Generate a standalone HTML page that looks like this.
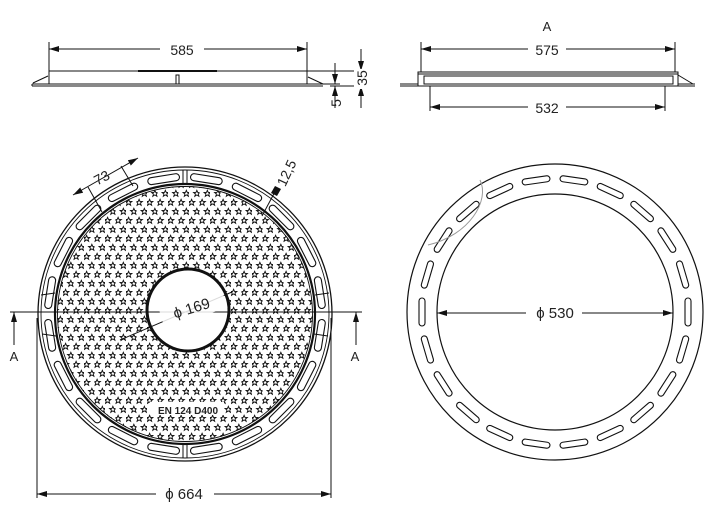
<!DOCTYPE html>
<html><head><meta charset="utf-8"><style>
html,body{margin:0;padding:0;background:#fff;}
svg{display:block;}
text{font-family:"Liberation Sans",sans-serif;fill:#222;}
</style></head><body>
<svg width="713" height="520" viewBox="0 0 713 520" xmlns="http://www.w3.org/2000/svg">
<defs>
<marker id="ar" viewBox="0 0 10 6" refX="10" refY="3" markerWidth="10" markerHeight="6" orient="auto-start-reverse" markerUnits="userSpaceOnUse">
<path d="M0,0 L10,3 L0,6 Z" fill="#111"/></marker>
<polygon id="st" points="0,-3.2 0.9,-1.1 3.2,-1 1.4,0.45 2.05,2.8 0,1.4 -2.05,2.8 -1.4,0.45 -3.2,-1 -0.9,-1.1" fill="none" stroke="#111" stroke-width="0.95"/>
<pattern id="stars" width="10.5" height="18" patternUnits="userSpaceOnUse" x="0" y="0">
<use href="#st" x="2.6" y="4.5"/><use href="#st" x="7.85" y="13.5"/>
</pattern>
<rect id="sl1" x="318" y="298" width="7" height="32" rx="3.5" fill="none" stroke="#111" stroke-width="1.1"/>
<rect id="sl2" x="685" y="298" width="6" height="28" rx="3" fill="none" stroke="#111" stroke-width="1.1"/>
</defs>

<!-- TOP LEFT PROFILE -->
<g stroke="#111" fill="none" stroke-width="1">
<line x1="49" y1="42" x2="49" y2="84"/>
<line x1="307" y1="42" x2="307" y2="84"/>
<line x1="49" y1="49" x2="307" y2="49" marker-start="url(#ar)" marker-end="url(#ar)"/>
<line x1="49" y1="71" x2="366" y2="71"/>
<line x1="138" y1="71" x2="217" y2="71" stroke-width="2"/>
<line x1="32" y1="84" x2="340" y2="84"/>
<line x1="32" y1="86" x2="323" y2="86"/>
<line x1="32" y1="84" x2="32" y2="86"/>
<line x1="33" y1="83" x2="48" y2="76"/>
<line x1="323" y1="84" x2="308" y2="77"/>
<rect x="176" y="75" width="3" height="9"/>
<line x1="335" y1="63" x2="335" y2="84" marker-end="url(#ar)"/>
<line x1="335" y1="108" x2="335" y2="86" marker-end="url(#ar)"/>
<line x1="361" y1="49" x2="361" y2="71" marker-end="url(#ar)"/>
<line x1="361" y1="108" x2="361" y2="86" marker-end="url(#ar)"/>
<line x1="330" y1="86" x2="366" y2="86"/>
</g>
<rect x="160" y="41" width="44" height="16" fill="#fff"/>
<text x="182" y="55" font-size="14" text-anchor="middle">585</text>
<text transform="translate(341,103) rotate(-90)" font-size="14" text-anchor="middle">5</text>
<rect x="354" y="69" width="14" height="20" fill="#fff"/>
<text transform="translate(367,78) rotate(-90)" font-size="14" text-anchor="middle">35</text>

<!-- TOP RIGHT PROFILE -->
<text x="547" y="31" font-size="13" text-anchor="middle">A</text>
<g stroke="#111" fill="none" stroke-width="1">
<line x1="421" y1="42" x2="421" y2="72"/>
<line x1="675" y1="42" x2="675" y2="72"/>
<line x1="421" y1="49" x2="675" y2="49" marker-start="url(#ar)" marker-end="url(#ar)"/>
<rect x="418" y="72" width="260" height="14"/>
<line x1="418" y1="74" x2="678" y2="74"/>
<rect x="424" y="76" width="249" height="8"/>
<line x1="400" y1="86" x2="695" y2="86"/>
<line x1="400" y1="84" x2="418" y2="84"/>
<line x1="678" y1="84" x2="695" y2="84"/>
<line x1="678" y1="75" x2="693" y2="84"/>
<line x1="430" y1="86" x2="430" y2="111"/>
<line x1="665" y1="86" x2="665" y2="111"/>
<line x1="430" y1="107" x2="665" y2="107" marker-start="url(#ar)" marker-end="url(#ar)"/>
</g>
<rect x="528" y="41" width="38" height="16" fill="#fff"/>
<text x="547" y="55" font-size="14" text-anchor="middle">575</text>
<rect x="528" y="99" width="38" height="16" fill="#fff"/>
<text x="547" y="113" font-size="14" text-anchor="middle">532</text>

<!-- LEFT CIRCLE -->
<circle cx="185" cy="314" r="128" fill="url(#stars)"/>
<g stroke="#111" fill="none">
<circle cx="185" cy="314" r="147" stroke-width="1.3"/>
<circle cx="185" cy="314" r="144" stroke-width="0.9"/>
<circle cx="185" cy="314" r="130" stroke-width="2.2"/>
<circle cx="185" cy="314" r="127.5" stroke-width="0.9"/>
<g stroke-width="1">
<line x1="183" y1="170" x2="183" y2="184"/><line x1="187" y1="170" x2="187" y2="184"/>
<line x1="183" y1="444" x2="183" y2="458"/><line x1="187" y1="444" x2="187" y2="458"/>
<line x1="41" y1="295" x2="55" y2="293"/><line x1="315" y1="295" x2="329" y2="293"/>
<line x1="42" y1="334" x2="56" y2="336"/><line x1="314" y1="334" x2="328" y2="336"/>
</g>
<use href="#sl1" transform="rotate(9 185 314)"/><use href="#sl1" transform="rotate(27 185 314)"/>
<use href="#sl1" transform="rotate(45 185 314)"/><use href="#sl1" transform="rotate(63 185 314)"/>
<use href="#sl1" transform="rotate(81 185 314)"/><use href="#sl1" transform="rotate(99 185 314)"/>
<use href="#sl1" transform="rotate(117 185 314)"/><use href="#sl1" transform="rotate(135 185 314)"/>
<use href="#sl1" transform="rotate(153 185 314)"/><use href="#sl1" transform="rotate(171 185 314)"/>
<use href="#sl1" transform="rotate(189 185 314)"/><use href="#sl1" transform="rotate(207 185 314)"/>
<use href="#sl1" transform="rotate(225 185 314)"/><use href="#sl1" transform="rotate(243 185 314)"/>
<use href="#sl1" transform="rotate(261 185 314)"/><use href="#sl1" transform="rotate(279 185 314)"/>
<use href="#sl1" transform="rotate(297 185 314)"/><use href="#sl1" transform="rotate(315 185 314)"/>
<use href="#sl1" transform="rotate(333 185 314)"/><use href="#sl1" transform="rotate(351 185 314)"/>
</g>
<circle cx="188" cy="310" r="41" fill="#fff" stroke="#111" stroke-width="3"/>
<g stroke="#111" stroke-width="1" fill="none">
<line x1="10" y1="312" x2="362" y2="312"/>
<line x1="14" y1="345" x2="14" y2="312" marker-end="url(#ar)"/>
<line x1="356" y1="345" x2="356" y2="312" marker-end="url(#ar)"/>
<line x1="120" y1="340" x2="232" y2="292"/>
<line x1="37" y1="318" x2="37" y2="498"/>
<line x1="331" y1="318" x2="331" y2="498"/>
<line x1="37" y1="494" x2="331" y2="494" marker-start="url(#ar)" marker-end="url(#ar)"/>
<line x1="73" y1="195" x2="138" y2="158" marker-start="url(#ar)" marker-end="url(#ar)"/>
<line x1="88" y1="187" x2="102" y2="212"/>
<line x1="121" y1="166" x2="133" y2="186"/>
<line x1="262" y1="216" x2="277" y2="188"/>
</g>
<polygon points="275,186 281,189 277,196 271,193" fill="#111"/>
<rect x="160" y="301" width="66" height="17" fill="#fff" opacity="0.85" transform="rotate(-17 193 308)"/>
<text transform="translate(193,313) rotate(-17)" font-size="15" text-anchor="middle">ϕ 169</text>
<text transform="translate(104,182) rotate(-28)" font-size="14" text-anchor="middle">73</text>
<text transform="translate(291,175) rotate(-65)" font-size="14" text-anchor="middle">12,5</text>
<text x="14" y="361" font-size="13" text-anchor="middle">A</text>
<text x="355" y="361" font-size="13" text-anchor="middle">A</text>
<rect x="150" y="402" width="74" height="13" fill="#fff"/>
<text x="188" y="414" font-size="10" font-weight="bold" text-anchor="middle">EN 124 D400</text>
<rect x="156" y="486" width="58" height="17" fill="#fff"/>
<text x="184" y="499" font-size="15" text-anchor="middle">ϕ 664</text>

<!-- RIGHT CIRCLE -->
<g stroke="#111" fill="none" stroke-width="1.2">
<circle cx="555" cy="312" r="148"/>
<circle cx="555" cy="312" r="118"/>
<g>
<use href="#sl2" transform="rotate(0 555 312)"/><use href="#sl2" transform="rotate(16.36 555 312)"/>
<use href="#sl2" transform="rotate(32.73 555 312)"/><use href="#sl2" transform="rotate(49.09 555 312)"/>
<use href="#sl2" transform="rotate(65.45 555 312)"/><use href="#sl2" transform="rotate(81.82 555 312)"/>
<use href="#sl2" transform="rotate(98.18 555 312)"/><use href="#sl2" transform="rotate(114.55 555 312)"/>
<use href="#sl2" transform="rotate(130.91 555 312)"/><use href="#sl2" transform="rotate(147.27 555 312)"/>
<use href="#sl2" transform="rotate(163.64 555 312)"/><use href="#sl2" transform="rotate(180 555 312)"/>
<use href="#sl2" transform="rotate(196.36 555 312)"/><use href="#sl2" transform="rotate(212.73 555 312)"/>
<use href="#sl2" transform="rotate(229.09 555 312)"/><use href="#sl2" transform="rotate(245.45 555 312)"/>
<use href="#sl2" transform="rotate(261.82 555 312)"/><use href="#sl2" transform="rotate(278.18 555 312)"/>
<use href="#sl2" transform="rotate(294.55 555 312)"/><use href="#sl2" transform="rotate(310.91 555 312)"/>
<use href="#sl2" transform="rotate(327.27 555 312)"/><use href="#sl2" transform="rotate(343.64 555 312)"/>
</g>
<line x1="437" y1="313" x2="673" y2="313" stroke-width="1" marker-start="url(#ar)" marker-end="url(#ar)"/>
</g>
<path d="M428,245 C470,235 490,200 480,180" stroke="#999" fill="none" stroke-width="1"/>
<rect x="526" y="304" width="56" height="17" fill="#fff"/>
<text x="555" y="318" font-size="15" text-anchor="middle">ϕ 530</text>
</svg>
</body></html>
